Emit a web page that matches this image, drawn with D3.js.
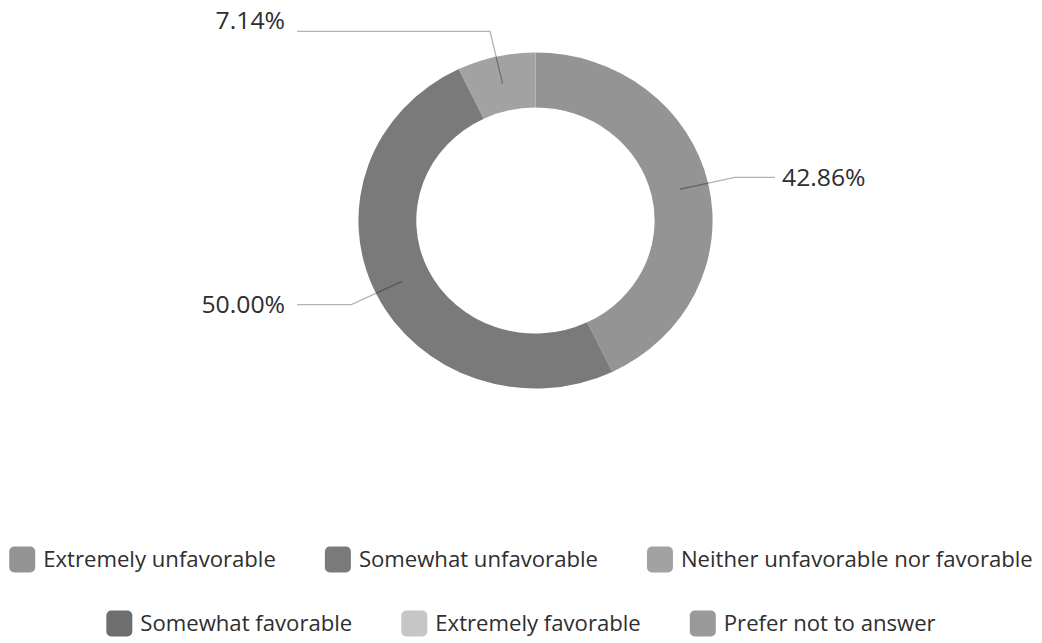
<!DOCTYPE html>
<html>
<head>
<meta charset="utf-8">
<script src="https://cdn.jsdelivr.net/npm/d3@7"></script>
<style>
  html, body { margin: 0; padding: 0; background: #fff; }
  svg { display: block; }
  text { font-family: "Open Sans", "Noto Sans", sans-serif; fill: #2e2e2e; }
</style>
</head>
<body>
<svg id="chart" width="1042" height="643"></svg>
<script>
const categories = [
  "Extremely unfavorable",
  "Somewhat unfavorable",
  "Neither unfavorable nor favorable",
  "Somewhat favorable",
  "Extremely favorable",
  "Prefer not to answer"
];
const values = [42.86, 50.00, 7.14, 0, 0, 0];
const colors = ["#949494", "#7a7a7a", "#a2a2a2", "#6e6e6e", "#c6c6c6", "#999999"];
const legendRows = [[0, 1, 2], [3, 4, 5]];

const svg = d3.select("#chart");
const W = 1042;
const cx = 535.5, cy = 220.5;
const sx = 1.054;           // slight horizontal stretch seen in the reference
const rOuter = 168, rInner = 113, rLabel = 194;

const data = categories.map((c, i) => ({ name: c, value: values[i], color: colors[i] }));
const pie = d3.pie().sort(null).value(d => d.value);
const arcs = pie(data).filter(a => a.data.value > 0);

const arc = d3.arc().innerRadius(rInner).outerRadius(rOuter);
const g = svg.append("g").attr("transform", `translate(${cx},${cy}) scale(${sx},1)`);
g.selectAll("path").data(arcs).join("path")
  .attr("d", arc)
  .attr("fill", d => d.data.color);

// leader lines and labels
const fmt = d3.format(".2f");
const leftX = cx - 238.5, rightX = cx + 239.5;
const pos = (r, a) => [cx + sx * r * Math.sin(a), cy - r * Math.cos(a)];
arcs.forEach(a => {
  const mid = (a.startAngle + a.endAngle) / 2;
  const rMid = (rInner + rOuter) / 2;
  const p0 = pos(rMid, mid);
  const p1 = pos(rLabel, mid);
  const right = Math.sin(mid) > 0;
  const p2 = [right ? rightX : leftX, p1[1]];
  svg.append("path")
    .attr("d", d3.line()([p0, p1, p2]))
    .attr("fill", "none")
    .attr("stroke", "rgba(0,0,0,0.3)")
    .attr("stroke-width", 1.3);
  const nearTop = p1[1] < 50;
  const tx = right ? p2[0] + 7 : p2[0] - 12;
  const ty = nearTop ? p1[1] - 2 : p1[1];
  svg.append("g")
    .attr("transform", `translate(${tx},${ty}) scale(${sx},1)`)
    .append("text")
    .attr("dy", nearTop ? "0" : "0.35em")
    .attr("text-anchor", right ? "start" : "end")
    .attr("font-size", 23.5)
    .text(fmt(a.data.value) + "%");
});

// legend
const rowY = [559.5, 623.5];
const sw = 26, gapText = 8, gapItem = 49, fs = 21;
legendRows.forEach((row, ri) => {
  const lg = svg.append("g");
  let x = 0;
  row.forEach(i => {
    const item = lg.append("g").attr("transform", `translate(${x},0)`);
    item.append("rect")
      .attr("x", 0).attr("y", -sw / 2)
      .attr("width", sw).attr("height", sw)
      .attr("rx", 5).attr("ry", 5)
      .attr("fill", colors[i]);
    const t = item.append("g")
      .attr("transform", `translate(${sw + gapText},0) scale(${sx},1)`)
      .append("text")
      .attr("dy", "0.35em")
      .attr("font-size", fs)
      .text(categories[i]);
    x += sw + gapText + t.node().getComputedTextLength() * sx + gapItem;
  });
  const total = x - gapItem;
  lg.attr("transform", `translate(${(W - total) / 2},${rowY[ri]})`);
});
</script>
</body>
</html>
